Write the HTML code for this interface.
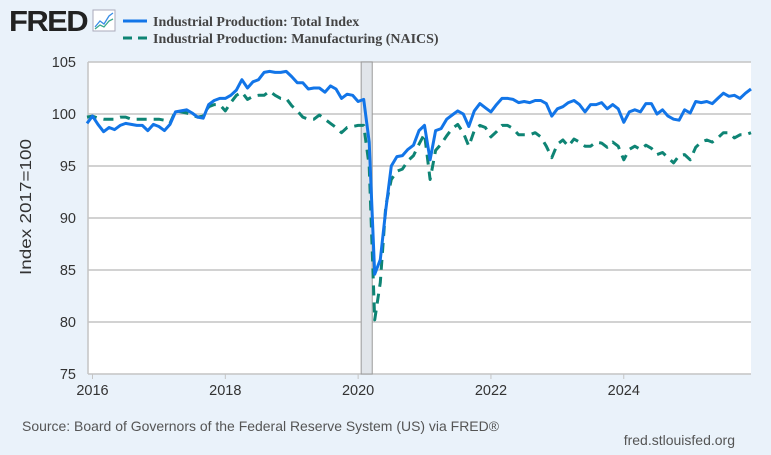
<!DOCTYPE html>
<html><head><meta charset="utf-8"><style>
body{margin:0;background:#eaf2fa;width:771px;height:450px;overflow:hidden;font-family:"Liberation Sans",sans-serif}
</style></head><body>
<svg id="chart" width="771" height="450" xmlns="http://www.w3.org/2000/svg" font-family="Liberation Sans, sans-serif">
<rect width="771" height="450" fill="#eaf2fa"/>
<text x="9" y="31" font-size="29" font-weight="bold" fill="#222" letter-spacing="-1.5" textLength="78" lengthAdjust="spacingAndGlyphs">FRED</text>
<g>
<rect x="93" y="10" width="22" height="21" fill="#fff" stroke="#aab" stroke-width="1"/>
<polyline points="95,27 100,21 104,24 109,16 113,13" fill="none" stroke="#3a8ee6" stroke-width="1.3"/>
<polyline points="95,29 100,25 104,27 109,21 113,19" fill="none" stroke="#3aa88a" stroke-width="1.3"/>
</g>
<g>
<g>
<line x1="123" y1="21" x2="147" y2="21" stroke="#1275e8" stroke-width="3"/>
<text x="153" y="26" font-family="Liberation Serif, serif" font-weight="bold" font-size="14" fill="#444">Industrial Production: Total Index</text></g>
<g>
<line x1="123" y1="38" x2="147" y2="38" stroke="#0e8474" stroke-width="3" stroke-dasharray="9,6"/>
<text x="153" y="43" font-family="Liberation Serif, serif" font-weight="bold" font-size="14" fill="#444">Industrial Production: Manufacturing (NAICS)</text></g>
</g>
<rect x="88" y="62" width="663" height="312" fill="#fff"/>
<g id="grid"></g>
<g id="rec"></g>
<g id="series"></g>
<g id="axes"></g>
<text transform="translate(31,207) rotate(-90)" text-anchor="middle" font-size="16" fill="#333" textLength="136" lengthAdjust="spacingAndGlyphs">Index 2017=100</text>
<text x="22" y="431" font-size="14" fill="#555" textLength="477" lengthAdjust="spacingAndGlyphs">Source: Board of Governors of the Federal Reserve System (US) via FRED®</text>
<text x="735" y="445" text-anchor="end" font-size="14" fill="#555">fred.stlouisfed.org</text>
</svg>
<script>
const yTicks=[75,80,85,90,95,100,105];
const xTickYears=[2016,2018,2020,2022,2024];
const startMonth=-1; // 2015-12 relative to 2016-01
const totalIndex=[99.1,99.8,99.0,98.3,98.7,98.5,98.9,99.1,99.0,98.9,98.9,98.4,99.0,98.8,98.4,99.0,100.2,100.3,100.4,100.1,99.7,99.6,100.9,101.3,101.5,101.5,101.8,102.3,103.3,102.5,103.1,103.3,104.0,104.1,104.0,104.0,104.1,103.6,103.0,103.0,102.4,102.5,102.5,102.1,102.7,102.4,101.5,101.9,101.8,101.2,101.4,97.3,84.6,86.0,90.8,95.0,95.9,96.0,96.6,97.0,98.4,98.9,95.6,98.4,98.6,99.5,99.9,100.3,100.0,98.8,100.3,101.0,100.6,100.2,100.9,101.5,101.5,101.4,101.1,101.2,101.1,101.3,101.3,101.0,99.8,100.5,100.7,101.1,101.3,100.9,100.2,100.9,100.9,101.1,100.5,100.9,100.5,99.2,100.2,100.4,100.2,101.0,101.0,100.0,100.4,99.8,99.5,99.4,100.4,100.1,101.2,101.1,101.2,101.0,101.5,102.0,101.7,101.8,101.5,102.0,102.4];
const manufacturing=[99.7,99.8,99.6,99.5,99.5,99.5,99.7,99.7,99.5,99.5,99.5,99.5,99.5,99.5,99.4,99.1,100.3,100.2,100.1,99.9,99.7,99.8,100.7,100.9,100.9,100.3,101.1,101.8,102.1,101.4,101.7,101.8,101.8,102.2,101.8,101.5,101.5,100.8,100.3,99.7,99.5,99.5,99.9,99.5,99.1,98.7,98.2,98.7,98.8,98.9,98.9,95.0,80.2,83.8,91.2,93.7,94.5,94.7,95.5,96.0,97.1,98.1,93.7,96.5,97.1,97.9,98.6,99.0,98.2,96.9,98.4,98.9,98.7,97.8,98.3,98.9,98.9,98.6,98.0,98.0,98.0,98.2,97.8,96.9,95.8,97.1,97.5,96.9,97.6,97.3,96.9,96.9,97.3,97.2,96.8,97.3,96.9,95.6,96.6,96.9,96.6,97.0,96.7,96.1,96.3,95.8,95.3,96.0,96.1,95.6,96.8,97.3,97.5,97.3,97.7,98.2,98.2,97.7,98.0,98.0,98.2];
const recession=[49,51]; // months from 2016-01: 2020-02 .. 2020-04
const NS="http://www.w3.org/2000/svg";
const x=m=>92.5+m*5.534;
const y=v=>374-(v-75)*10.4;
function mk(tag,attrs,parent){const e=document.createElementNS(NS,tag);for(const k in attrs)e.setAttribute(k,attrs[k]);parent.appendChild(e);return e;}
const grid=document.getElementById('grid'),axes=document.getElementById('axes'),rec=document.getElementById('rec'),ser=document.getElementById('series');
yTicks.forEach(t=>{
 const l=mk('line',{x1:88,x2:751,y1:y(t),y2:y(t),stroke:'#c4c4c4','stroke-width':1.5},grid);
 
 
 const tx=mk('text',{x:76,y:y(t)+5,'text-anchor':'end','font-size':14.5,fill:'#333'},axes);
 tx.textContent=t;
 
 
});
const ax=mk('line',{x1:88,x2:88,y1:62,y2:374,stroke:'#c4c4c4','stroke-width':1.5},grid);


xTickYears.forEach(yr=>{
 const m=(yr-2016)*12;
 const tk=mk('line',{x1:x(m),x2:x(m),y1:374,y2:379,stroke:'#c4c4c4'},axes);
 
 
 const tx=mk('text',{x:x(m),y:395,'text-anchor':'middle','font-size':14.5,fill:'#333'},axes);
 tx.textContent=yr;
 
 
});
const r=mk('rect',{x:x(recession[0])-2.5,y:62,width:x(recession[1])-x(recession[0]),height:312,fill:'#e1e5ea',stroke:'#9a9a9a','stroke-width':1},rec);


function line(data,color,dash,name){
 const pts=data.map((v,i)=>x(i+startMonth).toFixed(1)+','+y(v).toFixed(1)).join(' ');
 const p=mk('polyline',{points:pts,fill:'none',stroke:color,'stroke-width':3,'stroke-linejoin':'round'},ser);
 if(dash)p.setAttribute('stroke-dasharray',dash);
 
 
}
line(manufacturing,'#0e8474','10,7','series-manufacturing');
line(totalIndex,'#1275e8',null,'series-total-index');
</script>
</body></html>
